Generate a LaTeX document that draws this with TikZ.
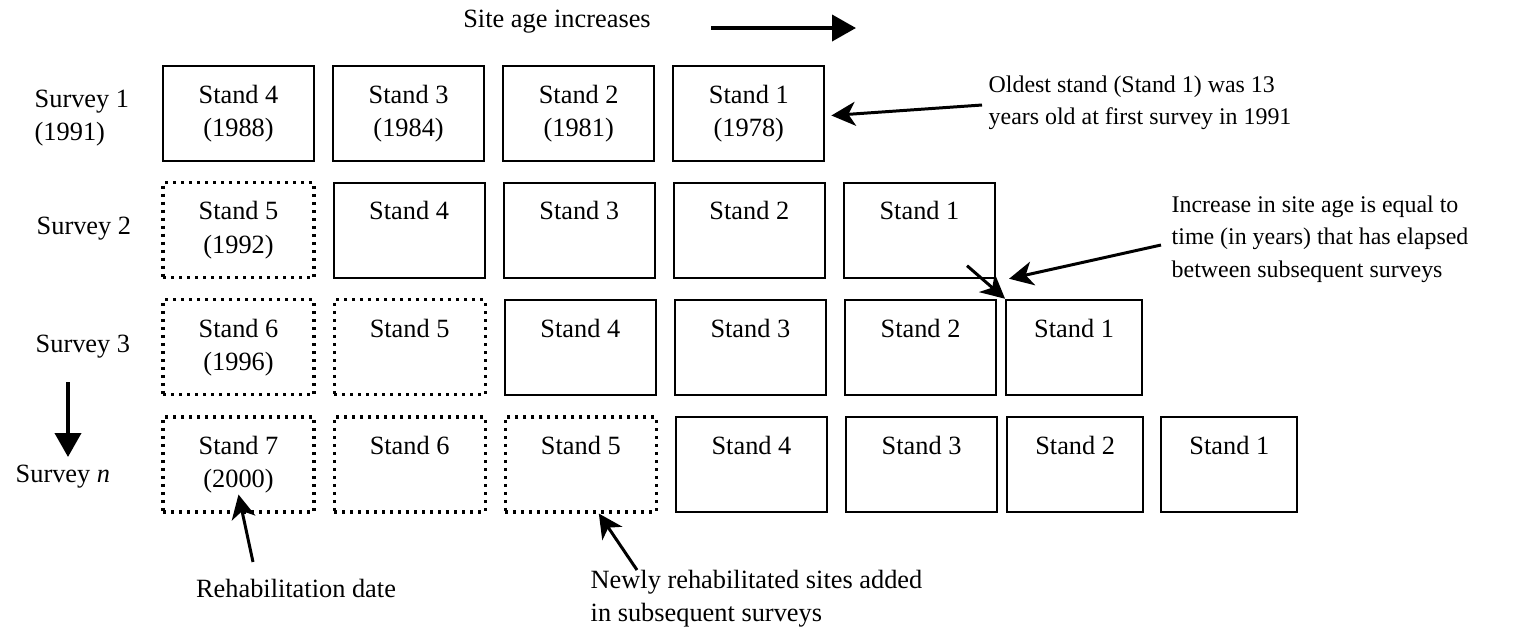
\documentclass[tikz,border=0pt]{standalone}
\usepackage{fontspec}
\setmainfont{Liberation Serif}
\usetikzlibrary{positioning,arrows.meta}

\begin{document}
\begin{tikzpicture}[
        x=0.1mm, y=-0.1mm,
        node distance={1.9mm and 1.7mm},
        font=\fontsize{7.5}{9.4}\selectfont,
        stand/.style = {draw, line width=0.6pt, minimum width=15.1mm, minimum height=9.5mm, align=center, inner sep=0pt},
        newstand/.style = {stand, line width=0.9pt, dash pattern=on 0.3mm off 0.5mm},
        narrow/.style = {minimum width=13.6mm},
        txt/.style = {align=left, inner sep=0pt},
        note/.style = {txt, font=\fontsize{6.8}{9.2}\selectfont},
        pointer/.style = {line width=0.85pt, -{Stealth[length=2.4mm, width=2.4mm, inset=0.7mm]}},
        bigarrow/.style = {line width=1.1pt, -{Triangle[length=2.4mm, width=2.6mm]}}
    ]
        \useasboundingbox (0,0) rectangle (1532,631);

        % Survey 1
        \node[stand] (a4) at (238.5,113.5) {Stand 4\\(1988)};
        \node[stand] (a3) [right=of a4] {Stand 3\\(1984)};
        \node[stand] (a2) [right=of a3] {Stand 2\\(1981)};
        \node[stand] (a1) [right=of a2] {Stand 1\\(1978)};

        % Survey 2
        \node[newstand] (b5) [below=of a4] {Stand 5\\(1992)};
        \node[stand] (b4) [right=of b5] {Stand 4\\\phantom{(0)}};
        \node[stand] (b3) [right=of b4] {Stand 3\\\phantom{(0)}};
        \node[stand] (b2) [right=of b3] {Stand 2\\\phantom{(0)}};
        \node[stand] (b1) [right=of b2] {Stand 1\\\phantom{(0)}};

        % Survey 3
        \node[newstand] (c6) [below=of b5] {Stand 6\\(1996)};
        \node[newstand] (c5) [right=of c6] {Stand 5\\\phantom{(0)}};
        \node[stand] (c4) [right=of c5] {Stand 4\\\phantom{(0)}};
        \node[stand] (c3) [right=of c4] {Stand 3\\\phantom{(0)}};
        \node[stand] (c2) [right=of c3] {Stand 2\\\phantom{(0)}};
        \node[stand, narrow] (c1) [right=0.8mm of c2] {Stand 1\\\phantom{(0)}};

        % Survey n
        \node[newstand] (d7) [below=of c6] {Stand 7\\(2000)};
        \node[newstand] (d6) [right=of d7] {Stand 6\\\phantom{(0)}};
        \node[newstand] (d5) [right=of d6] {Stand 5\\\phantom{(0)}};
        \node[stand] (d4) [right=of d5] {Stand 4\\\phantom{(0)}};
        \node[stand] (d3) [right=of d4] {Stand 3\\\phantom{(0)}};
        \node[stand, narrow] (d2) [right=0.8mm of d3] {Stand 2\\\phantom{(0)}};
        \node[stand, narrow] (d1) [right=1.6mm of d2] {Stand 1\\\phantom{(0)}};

        % Survey labels
        \node[txt, anchor=west] (sv1) at (34,118) {Survey 1\\(1991)};
        \node[txt, anchor=west] (sv2) at (36,229) {Survey 2};
        \node[txt, anchor=west] (sv3) at (35,347) {Survey 3};
        \node[txt, anchor=west] (svn) at (15,477) {Survey \textit{n}};
        \coordinate (down1) at (68,382);
        \coordinate (down2) at (68,457);
        \draw[bigarrow] (down1) -- (down2);

        % Site age
        \node[txt] (age) at (557,22) {Site age increases};
        \coordinate (age1) at (711,28);
        \coordinate (age2) at (856,28);
        \draw[bigarrow] (age1) -- (age2);

        % Notes
        \node[note, anchor=west] (oldest) at (988,103) {Oldest stand (Stand 1) was 13\\years old at first survey in 1991};
        \node[note, anchor=west] (incr) at (1171,239) {Increase in site age is equal to\\time (in years) that has elapsed\\between subsequent surveys};
        \node[txt] (rehab) at (296,588) {Rehabilitation date};
        \node[txt, anchor=west] (newly) at (590,599) {Newly rehabilitated sites added\\in subsequent surveys};

        \draw[pointer] ([shift={(-6,2)}]oldest.west) -- ([shift={(6,2)}]a1.east);
        \draw[pointer] ([shift={(-29,-13)}]b1.south east) -- (c1.north west);
        \draw[pointer] ([shift={(-10,6)}]incr.west) -- ([shift={(4,-20)}]c1.north west);
        \draw[pointer] ([shift={(-43,-26)}]rehab.center) -- ([shift={(0,-19)}]d7.south);
        \draw[pointer] ([shift={(47,-29)}]newly.west) -- ([shift={(18,0)}]d5.south);

    \end{tikzpicture}
\end{document}
